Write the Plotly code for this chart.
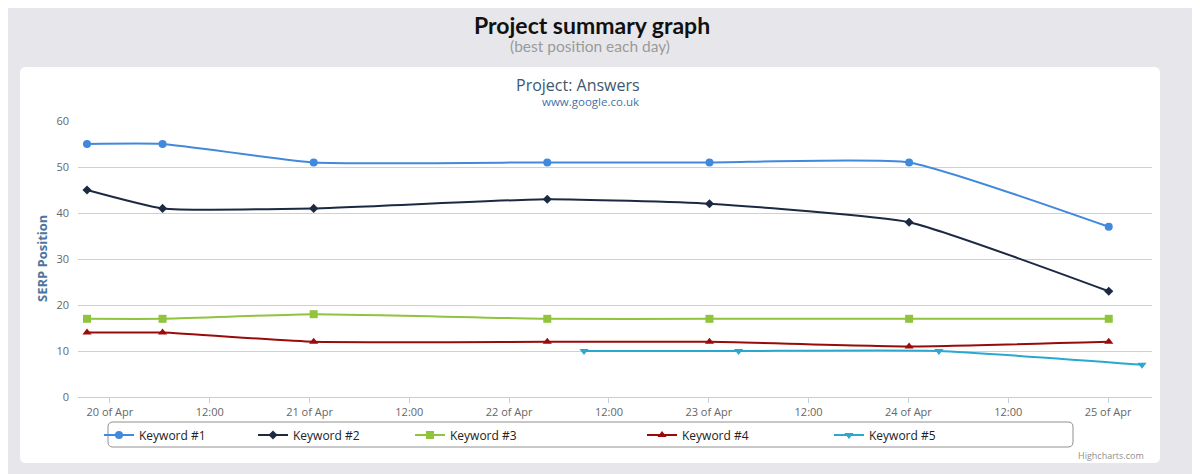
import plotly.graph_objects as go

# times of the checks (keywords 1-4 share them, keyword 5 was added later)
check_times = ["2013-04-19 21:15", "2013-04-20 06:20", "2013-04-21 00:30",
               "2013-04-22 04:35", "2013-04-23 00:05", "2013-04-24 00:05",
               "2013-04-25 00:05"]
kw5_times = ["2013-04-22 09:00", "2013-04-23 03:35", "2013-04-24 03:40",
             "2013-04-25 04:05"]

kw1 = [55, 55, 51, 51, 51, 51, 37]
kw2 = [45, 41, 41, 43, 42, 38, 23]
kw3 = [17, 17, 18, 17, 17, 17, 17]
kw4 = [14, 14, 12, 12, 12, 11, 12]
kw5 = [10, 10, 10, 7]

names = ["Keyword #1", "Keyword #2", "Keyword #3", "Keyword #4", "Keyword #5"]
colors = ["#4189dc", "#1b2a42", "#8fc43c", "#9a0a0a", "#2aa8d0"]
symbols = ["circle", "diamond", "square", "triangle-up", "triangle-down"]

tick_vals = ["2013-04-20 00:00", "2013-04-20 12:00", "2013-04-21 00:00",
             "2013-04-21 12:00", "2013-04-22 00:00", "2013-04-22 12:00",
             "2013-04-23 00:00", "2013-04-23 12:00", "2013-04-24 00:00",
             "2013-04-24 12:00", "2013-04-25 00:00"]
tick_text = ["20 of Apr", "12:00", "21 of Apr", "12:00", "22 of Apr", "12:00",
             "23 of Apr", "12:00", "24 of Apr", "12:00", "25 of Apr"]

# the page puts the figure 8px in from the top left corner
OFF = 8
W, H = 1200 - OFF, 474 - OFF
L, R, T, B = 78 - OFF, 48, 121 - OFF, 77
pw, ph = W - L - R, H - T - B


def px(x):
    # screen x -> paper x
    return (x - OFF - L) / pw


def py(y):
    # screen y -> paper y
    return (H - B - (y - OFF)) / ph


def rounded(x0, y0, x1, y1, r):
    # rounded rectangle path in paper coords
    rx, ry = r / pw, r / ph
    a, b, c, d = px(x0), py(y1), px(x1), py(y0)
    return (f"M{a+rx},{b} L{c-rx},{b} Q{c},{b} {c},{b+ry} L{c},{d-ry} "
            f"Q{c},{d} {c-rx},{d} L{a+rx},{d} Q{a},{d} {a},{d-ry} "
            f"L{a},{b+ry} Q{a},{b} {a+rx},{b} Z")


fig = go.Figure()

series = [(check_times, kw1), (check_times, kw2), (check_times, kw3),
          (check_times, kw4), (kw5_times, kw5)]
legend_ids = ["legend", "legend2", "legend3", "legend4", "legend5"]
for i, (t, v) in enumerate(series):
    fig.add_trace(go.Scatter(
        x=t, y=v, name=names[i], mode="lines+markers",
        line=dict(color=colors[i], width=2, shape="spline", smoothing=0.45),
        marker=dict(symbol=symbols[i], size=8 if i != 1 else 7, color=colors[i]),
        legend=legend_ids[i],
    ))

legend_px = [99, 253, 410, 642, 829]
legend_cfg = {}
for i, lid in enumerate(legend_ids):
    legend_cfg[lid] = dict(
        x=px(legend_px[i]), y=py(435), xanchor="left", yanchor="middle",
        orientation="h", bgcolor="rgba(0,0,0,0)", borderwidth=0,
        font=dict(family="Open Sans", size=12, color="#222222"),
    )

fig.update_layout(
    width=W, height=H,
    margin=dict(l=L, r=R, t=T, b=B),
    paper_bgcolor="#e7e7eb",
    plot_bgcolor="white",
    font=dict(family="Open Sans", size=11, color="#666666"),
    showlegend=True,
    **legend_cfg,
    xaxis=dict(
        type="date",
        range=["2013-04-19 20:10", "2013-04-25 05:17"],
        tickvals=tick_vals, ticktext=tick_text,
        showgrid=False, showline=True, linecolor="#c0d0e0", linewidth=1,
        ticks="outside", ticklen=5, tickcolor="#c0d0e0",
        tickfont=dict(size=11, color="#666666"),
        zeroline=False,
    ),
    yaxis=dict(
        range=[0, 60], dtick=10,
        showgrid=True, gridcolor="#d0d0d0", gridwidth=1,
        zeroline=False, showline=False, ticks="",
        ticklabelstandoff=8,
        tickfont=dict(size=11, color="#666666"),
    ),
    shapes=[
        dict(type="path", xref="paper", yref="paper", layer="below",
             path=rounded(20, 67, 1160, 463, 6),
             fillcolor="white", line=dict(width=0)),
        dict(type="path", xref="paper", yref="paper", layer="above",
             path=rounded(108, 422, 1073, 447, 5),
             fillcolor="rgba(0,0,0,0)", line=dict(color="#909090", width=1)),
    ],
    annotations=[
        dict(text="<b>Project summary graph</b>", xref="paper", yref="paper",
             x=px(592), y=py(8.5), xanchor="center", yanchor="top",
             showarrow=False, font=dict(family="Lato", size=23, color="#111111")),
        dict(text="(best position each day)", xref="paper", yref="paper",
             x=px(590), y=py(46), xanchor="center", yanchor="middle",
             showarrow=False, font=dict(family="Lato", size=15.5, color="#9a9a9a")),
        dict(text="Project: Answers", xref="paper", yref="paper",
             x=px(578), y=py(85), xanchor="center", yanchor="middle",
             showarrow=False, font=dict(family="Open Sans", size=16, color="#3e576f")),
        dict(text="www.google.co.uk", xref="paper", yref="paper",
             x=px(590), y=py(101.5), xanchor="center", yanchor="middle",
             showarrow=False, font=dict(family="Open Sans", size=11.5, color="#4572a7")),
        dict(text="<b>SERP Position</b>", xref="paper", yref="paper",
             x=px(42), y=py(259), xanchor="center", yanchor="middle",
             textangle=-90, showarrow=False,
             font=dict(family="Open Sans", size=13, color="#4d759e")),
        dict(text="Highcharts.com", xref="paper", yref="paper",
             x=px(1146), y=py(455), xanchor="right", yanchor="middle",
             showarrow=False, font=dict(family="Open Sans", size=9, color="#909090")),
    ],
)

fig.write_html("out.html")
